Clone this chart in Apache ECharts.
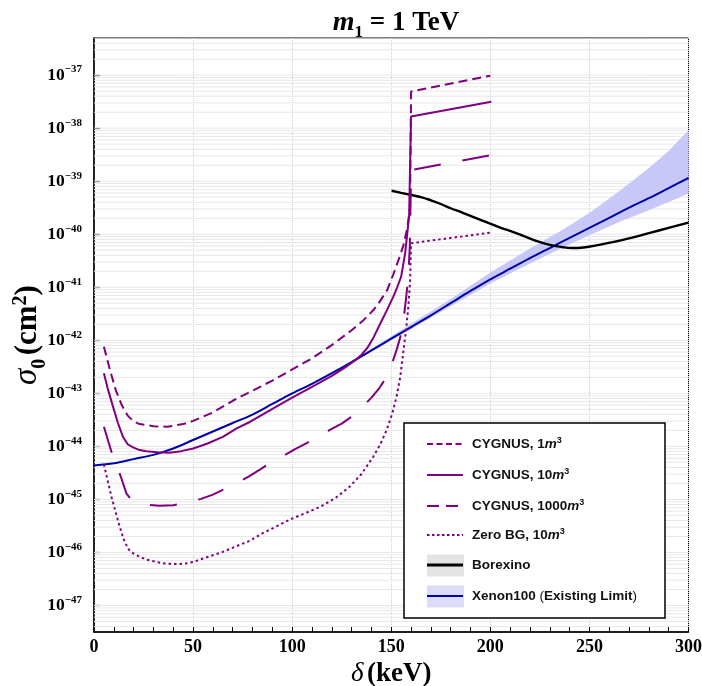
<!DOCTYPE html>
<html>
<head>
<meta charset="utf-8">
<script src="https://cdn.jsdelivr.net/npm/echarts@6/dist/echarts.min.js"></script>
<style>
  html, body { margin: 0; padding: 0; background: #ffffff; }
  #chart { width: 702px; height: 686px; }
</style>
</head>
<body>
<div id="chart"></div>
<script>
// Cross-section limits: delta in keV, values stored as log10(sigma_0 / cm^2)
const cyg1Delta = [5, 8, 11, 14, 17, 20, 23, 30, 37, 45, 50, 60, 70, 80, 90, 100, 110, 120, 130, 136, 141, 144, 148, 151, 154, 156, 158, 159.5, 160, 200];
const cyg1Log   = [-42.12, -42.55, -42.94, -43.22, -43.42, -43.53, -43.58, -43.62, -43.63, -43.58, -43.52, -43.36, -43.14, -42.95, -42.76, -42.55, -42.34, -42.09, -41.81, -41.62, -41.43, -41.28, -41.05, -40.76, -40.45, -40.23, -39.90, -39.50, -37.31, -37.01];

const cyg10Delta = [5, 7, 9.6, 12, 14.6, 17, 19.7, 23, 26.5, 32, 38, 44, 50, 57, 65, 72, 78.6, 85, 92, 100, 110, 120, 126, 131.7, 135, 138, 141, 144, 147.7, 151, 153, 155, 157, 159, 160, 200.5];
const cyg10Log   = [-42.62, -42.92, -43.25, -43.55, -43.82, -43.96, -44.02, -44.07, -44.09, -44.11, -44.12, -44.09, -44.04, -43.95, -43.82, -43.66, -43.54, -43.40, -43.25, -43.08, -42.88, -42.67, -42.53, -42.38, -42.27, -42.14, -41.95, -41.72, -41.44, -41.18, -41.00, -40.80, -40.36, -39.67, -37.78, -37.50];

const cyg1000Delta = [5, 8.8, 13.8, 16.4, 18.5, 20.6, 27, 33, 40, 47.5, 54, 60, 66, 72, 78, 83.7, 89, 95.5, 101, 107.3, 113, 119, 125, 130, 135, 140, 144, 147.7, 150, 152.7, 154.5, 156, 157.5, 158.6, 159.4, 160, 200];
const cyg1000Log   = [-43.63, -44.10, -44.60, -44.89, -44.99, -45.05, -45.10, -45.12, -45.11, -45.06, -44.99, -44.91, -44.80, -44.69, -44.57, -44.44, -44.31, -44.18, -44.06, -43.94, -43.82, -43.69, -43.57, -43.44, -43.28, -43.08, -42.90, -42.69, -42.48, -42.18, -41.95, -41.68, -41.20, -40.80, -40.20, -38.79, -38.51];

const zeroDelta = [5, 8.8, 11, 13, 15, 17.2, 19, 21.4, 26, 31.5, 36, 41.6, 46, 50, 57, 65, 72, 78.6, 85, 92, 98.8, 106, 114, 122, 129, 135, 141, 144.5, 147.7, 150.5, 152.7, 154.5, 156, 157.5, 158.6, 159.5, 160, 200];
const zeroLog   = [-44.34, -44.95, -45.25, -45.52, -45.75, -45.93, -46.00, -46.05, -46.13, -46.18, -46.21, -46.22, -46.21, -46.18, -46.09, -45.99, -45.88, -45.78, -45.64, -45.51, -45.38, -45.27, -45.14, -44.97, -44.76, -44.52, -44.19, -43.96, -43.69, -43.38, -43.06, -42.70, -42.24, -41.80, -41.37, -40.90, -40.17, -39.97];

const borexDelta = [150.2, 155, 160, 165, 170, 175, 180, 186.4, 195, 204, 213, 222, 230, 236, 241, 247, 255, 263, 272, 281, 290, 300];
const borexLog   = [-39.18, -39.22, -39.26, -39.30, -39.36, -39.43, -39.51, -39.60, -39.73, -39.86, -39.98, -40.11, -40.20, -40.24, -40.26, -40.25, -40.20, -40.14, -40.06, -39.97, -39.88, -39.78];

const xenonDelta = [0, 10, 20, 30, 40, 50, 60, 70, 80, 90, 100, 110, 120, 130, 140, 150, 160, 170, 180, 190, 200, 210, 220, 230, 240, 250, 260, 270, 280, 290, 300];
const xenonLog   = [-44.36, -44.32, -44.24, -44.16, -44.04, -43.88, -43.72, -43.56, -43.40, -43.20, -43.00, -42.82, -42.62, -42.41, -42.19, -41.97, -41.75, -41.53, -41.30, -41.07, -40.85, -40.65, -40.45, -40.26, -40.07, -39.88, -39.69, -39.50, -39.32, -39.13, -38.94];

// Xenon100 uncertainty band
const bandDelta    = [120, 140, 160, 180, 200, 220, 235, 250, 265, 280, 290, 300];
const bandUpperLog = [-42.61, -42.16, -41.69, -41.22, -40.72, -40.27, -39.95, -39.60, -39.19, -38.75, -38.43, -38.04];
const bandLowerLog = [-42.63, -42.21, -41.79, -41.36, -40.93, -40.55, -40.28, -40.02, -39.77, -39.55, -39.39, -39.23];

// Axis ranges and ticks
const xMin = 0, xMax = 300, xStep = 50;
const yLogMin = -47.5, yLogMax = -36.3;
const yDecades = [-47, -46, -45, -44, -43, -42, -41, -40, -39, -38, -37];

const PURPLE = '#800080';
const BLUE = '#0000aa';
const BAND = '#c8c8f8';
const SERIF = '"Liberation Serif", "DejaVu Serif", serif';
const SANS = '"Liberation Sans", Arial, sans-serif';

const sigma = lv => Math.pow(10, lv);
const toPoints = (xs, logs) => xs.map((x, i) => [x, sigma(logs[i])]);

// faint horizontal grid at 1..9 x 10^n
const gridValues = [];
for (let e = -48; e <= -37; e++) {
  for (let k = 1; k <= 9; k++) {
    const lv = e + Math.log10(k);
    if (lv > yLogMin + 1e-6 && lv < yLogMax - 1e-6) gridValues.push(k * Math.pow(10, e));
  }
}

const chart = echarts.init(document.getElementById('chart'), null, { renderer: 'canvas' });

function curve(name, xs, logs, dash, width, color, z) {
  return {
    name: name,
    type: 'line',
    yAxisIndex: 1,
    data: toPoints(xs, logs),
    showSymbol: false,
    symbol: 'none',
    smooth: false,
    clip: true,
    z: z,
    lineStyle: { color: color, width: width, type: dash, cap: 'butt' },
    emphasis: { disabled: true },
    animation: false
  };
}

const legendRows = [
  { y: 444, text: '{t|CYGNUS, 1}{i|m}{p|3}', dash: [6, 3.5], width: 2, color: PURPLE },
  { y: 475, text: '{t|CYGNUS, 10}{i|m}{p|3}', dash: null, width: 2, color: PURPLE },
  { y: 506, text: '{t|CYGNUS, 1000}{i|m}{p|3}', dash: [12, 7], width: 2, color: PURPLE },
  { y: 535, text: '{t|Zero BG, 10}{i|m}{p|3}', dash: [2.5, 2.5], width: 2, color: PURPLE },
  { y: 565, text: '{t|Borexino}', dash: null, width: 3, color: '#000000', box: '#e3e3e3' },
  { y: 596, text: '{t|Xenon100 }{q|(}{t|Existing Limit}{q|)}', dash: null, width: 2, color: BLUE, box: '#dcdcfa' }
];

const legendRich = {
  t: { fontFamily: SANS, fontSize: 13.5, fontWeight: 'bold', fill: '#111111' },
  q: { fontFamily: SANS, fontSize: 13.5, fontWeight: 'normal', fill: '#111111' },
  i: { fontFamily: SANS, fontSize: 13.5, fontWeight: 'bold', fontStyle: 'italic', fill: '#111111' },
  p: { fontFamily: SANS, fontSize: 9, fontWeight: 'bold', fill: '#111111', verticalAlign: 'top', padding: [0, 0, 7, 0] }
};

const legendGraphics = [
  {
    type: 'rect', z: 100,
    shape: { x: 404, y: 423, width: 261, height: 195 },
    style: { fill: '#ffffff', stroke: '#000000', lineWidth: 1.5 }
  }
];
legendRows.forEach(r => {
  if (r.box) {
    legendGraphics.push({
      type: 'rect', z: 101,
      shape: { x: 427, y: r.y - 10.5, width: 37, height: 22 },
      style: { fill: r.box }
    });
  }
  legendGraphics.push({
    type: 'line', z: 102,
    shape: { x1: 427, y1: r.y, x2: 463, y2: r.y },
    style: { stroke: r.color, lineWidth: r.width, lineDash: r.dash || null }
  });
  legendGraphics.push({
    type: 'text', z: 102,
    x: 472, y: r.y,
    style: { text: r.text, rich: legendRich, verticalAlign: 'middle', align: 'left', fontFamily: SANS, fontSize: 13.5 }
  });
});

const option = {
  animation: false,
  backgroundColor: '#ffffff',
  title: {
    text: '{m|m}{s|1}{r| = 1 TeV}',
    left: 391,
    top: 4,
    textAlign: 'center',
    textStyle: {
      rich: {
        m: { fontFamily: SERIF, fontSize: 28, fontWeight: 'bold', fontStyle: 'italic', color: '#000' },
        s: { fontFamily: SERIF, fontSize: 17, fontWeight: 'bold', color: '#000', verticalAlign: 'bottom', padding: [0, 0, -4, 0] },
        r: { fontFamily: SERIF, fontSize: 27, fontWeight: 'bold', color: '#000' }
      }
    }
  },
  grid: {
    left: 94, top: 38, right: 13.5, bottom: 54,
    outerBoundsMode: 'none',
    containLabel: false,
    show: true, borderColor: '#000000', borderWidth: 1, backgroundColor: 'transparent'
  },
  xAxis: {
    type: 'value',
    min: xMin, max: xMax, interval: xStep,
    name: '{d|δ} {k|(keV)}',
    nameLocation: 'middle',
    nameGap: 24,
    nameTextStyle: {
      rich: {
        d: { fontFamily: SERIF, fontSize: 27, fontStyle: 'italic', color: '#000' },
        k: { fontFamily: SERIF, fontSize: 27, fontWeight: 'bold', color: '#000' }
      }
    },
    axisLine: { show: true, onZero: false, lineStyle: { color: '#000', width: 1.5 } },
    axisTick: { show: true, inside: true, length: 5, lineStyle: { color: '#000', width: 1 } },
    minorTick: { show: true, splitNumber: 5, length: 5, lineStyle: { color: '#000', width: 1 } },
    axisLabel: { fontFamily: SERIF, fontSize: 18, fontWeight: 'bold', color: '#000', margin: 6 },
    splitLine: { show: true, lineStyle: { color: '#cfcfcf', type: 'dotted', width: 1 } }
  },
  yAxis: [
    {
      // exponent scale carrying the decade ticks and labels
      type: 'value',
      position: 'left',
      min: yLogMin,
      max: yLogMax,
      name: '{s|σ}{z|0} {k|(cm}{p|2}{k|)}',
      nameLocation: 'middle',
      nameRotate: 90,
      nameGap: 50,
      nameMoveOverlap: false,
      nameTextStyle: {
        rich: {
          s: { fontFamily: SERIF, fontSize: 33, fontStyle: 'italic', color: '#000' },
          z: { fontFamily: SERIF, fontSize: 20, fontWeight: 'bold', color: '#000', verticalAlign: 'bottom', padding: [0, 0, -6, 0] },
          k: { fontFamily: SERIF, fontSize: 31, fontWeight: 'bold', color: '#000' },
          p: { fontFamily: SERIF, fontSize: 20, fontWeight: 'bold', color: '#000', verticalAlign: 'top', padding: [0, 0, 11, 0] }
        }
      },
      axisLine: { show: true, onZero: false, lineStyle: { color: '#000', width: 1.5 } },
      axisTick: { show: true, inside: true, length: 6, customValues: yDecades, lineStyle: { color: '#000', width: 1.2 } },
      minorTick: { show: false },
      axisLabel: {
        customValues: yDecades,
        margin: 12,
        formatter: function (e) {
          return '{b|10}{s|−' + Math.round(-e) + '}';
        },
        rich: {
          b: { fontFamily: SERIF, fontSize: 17.5, fontWeight: 'bold', color: '#000', lineHeight: 22 },
          s: { fontFamily: SERIF, fontSize: 11, fontWeight: 'bold', color: '#000', verticalAlign: 'top', lineHeight: 11, padding: [0, 0, 8, 0] }
        }
      },
      splitLine: { show: false }
    },
    {
      // log scale that positions every curve
      type: 'log',
      logBase: 10,
      min: sigma(yLogMin),
      max: sigma(yLogMax),
      axisLine: { show: false },
      axisTick: { show: false },
      axisLabel: { show: false },
      splitLine: { show: false },
      minorTick: { show: false }
    }
  ],
  graphic: legendGraphics,
  series: [
    {
      name: 'grid',
      type: 'custom',
      yAxisIndex: 1,
      silent: true,
      z: 1,
      clip: true,
      data: gridValues.map(v => [xMin, v]),
      renderItem: function (params, api) {
        const v = api.value(1);
        const a = api.coord([xMin, v]);
        const b = api.coord([xMax, v]);
        return { type: 'line', shape: { x1: a[0], y1: a[1], x2: b[0], y2: b[1] }, style: { stroke: '#e7e7e7', lineWidth: 1 } };
      }
    },
    {
      name: 'Xenon100 band',
      type: 'custom',
      yAxisIndex: 1,
      silent: true,
      z: 2,
      clip: true,
      data: [[bandDelta[0], sigma(bandLowerLog[0])]],
      renderItem: function (params, api) {
        const pts = [];
        for (let i = 0; i < bandDelta.length; i++) pts.push(api.coord([bandDelta[i], sigma(bandUpperLog[i])]));
        for (let i = bandDelta.length - 1; i >= 0; i--) pts.push(api.coord([bandDelta[i], sigma(bandLowerLog[i])]));
        return { type: 'polygon', shape: { points: pts }, style: { fill: BAND, stroke: null } };
      }
    },
    Object.assign(curve('Xenon100', xenonDelta, xenonLog, 'solid', 2, BLUE, 3), { smooth: 0.3 }),
    Object.assign(curve('Borexino', borexDelta, borexLog, 'solid', 2.4, '#000000', 4), { smooth: 0.4 }),
    curve('CYGNUS 1m3', cyg1Delta, cyg1Log, [9, 5], 2, PURPLE, 5),
    curve('CYGNUS 10m3', cyg10Delta, cyg10Log, 'solid', 2, PURPLE, 5),
    curve('CYGNUS 1000m3', cyg1000Delta, cyg1000Log, [27, 22], 2, PURPLE, 5),
    curve('Zero BG 10m3', zeroDelta, zeroLog, [2.5, 3], 2, PURPLE, 5)
  ]
};

chart.setOption(option);
</script>
</body>
</html>
